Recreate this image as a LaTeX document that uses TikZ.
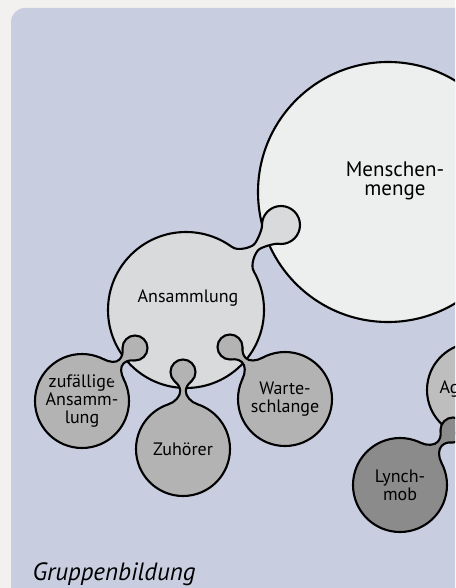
\documentclass[tikz,border=0pt]{standalone}
\usepackage{fontspec}
\setmainfont{PT Sans}
\usetikzlibrary{calc}
\definecolor{pagegray}{RGB}{242,241,239}
\definecolor{panelblue}{RGB}{201,205,224}
\definecolor{crowdfill}{RGB}{237,238,238}
\definecolor{gatherfill}{RGB}{217,218,220}
\definecolor{groupfill}{RGB}{179,179,179}
\definecolor{aggfill}{RGB}{190,190,190}
\definecolor{mobfill}{RGB}{139,139,139}

\begin{document}
\begin{tikzpicture}[x=1pt,y=-1pt,
  blob/.style={circle,draw=black,line width=2.1pt,inner sep=0pt,align=center,
    font=\fontsize{18}{18}\selectfont},
  bud/.style={circle,draw=black,line width=2.1pt,inner sep=0pt,minimum size=#1},
  flank/.style={line width=2.1pt,line cap=round}]
  \useasboundingbox (0,0) rectangle (455,588);
  \clip (0,0) rectangle (455,588);
  \fill[pagegray] (0,0) rectangle (455,588);
  \fill[panelblue,rounded corners=14pt] (11,8) rectangle (480,620);

  % circles
  \node[blob,fill=crowdfill,minimum size=260pt] (menge) at (388,192) {};
  \node[font=\fontsize{21}{19}\selectfont,align=center] (menge-t) at (395,181) {Menschen-\\menge};
  \node[blob,fill=aggfill,minimum size=94pt] (agg) at (474,390) {};
  \node[anchor=west,font=\fontsize{18}{18}\selectfont] (agg-t) at (436,389) {Ag};
  \node[blob,fill=gatherfill,minimum size=156pt] (ans) at (186,310) {};
  \node[font=\fontsize{18}{18}\selectfont] (ans-t) at (188,298) {Ansammlung};
  \node[blob,fill=groupfill,minimum size=94pt] (zuf) at (82,401) {zuf\"allige\\Ansamm-\\lung};
  \node[blob,fill=groupfill,minimum size=94pt] (zuh) at (183,449) {Zuh\"orer};
  \node[blob,fill=groupfill,minimum size=94pt] (warte) at (285,399) {Warte-\\schlange};
  \node[blob,fill=mobfill,minimum size=94pt] (lynch) at (400,485) {Lynch-\\mob};

  % buds and necks
  \foreach \kid/\bx/\by/\rb/\rk/\wpos/\wh/\ang/\col in {
      ans/281/225/19/78/33/3.5/12/gatherfill,
      zuf/135/348/12.5/47/19/2.8/18/groupfill,
      zuh/183/372/12.5/47/19/2.8/18/groupfill,
      warte/230/347/12.5/47/19/2.8/18/groupfill,
      lynch/453/430/12.5/47/19/2.8/18/mobfill} {
    \node[bud=2*\rb pt,fill=\col] (bud-\kid) at (\bx,\by) {};
    \coordinate (p1) at ($(bud-\kid.center)!\rb pt!40:(\kid.center)$);
    \coordinate (p2) at ($(bud-\kid.center)!\rb pt!-40:(\kid.center)$);
    \coordinate (q1) at ($(\kid.center)!\rk pt!-\ang:(bud-\kid.center)$);
    \coordinate (q2) at ($(\kid.center)!\rk pt!\ang:(bud-\kid.center)$);
    \coordinate (m) at ($(bud-\kid.center)!\wpos pt!(\kid.center)$);
    \coordinate (w1) at ($(m)!\wh pt!90:(\kid.center)$);
    \coordinate (w2) at ($(m)!\wh pt!-90:(\kid.center)$);
    \coordinate (c1) at ($(p1)!4pt!90:(bud-\kid.center)$);
    \coordinate (c2) at ($(w1)!4pt!180:(\kid.center)$);
    \coordinate (c3) at ($(w1)!5pt!(\kid.center)$);
    \coordinate (c4) at ($(q1)!7pt!-90:(\kid.center)$);
    \coordinate (d1) at ($(p2)!4pt!-90:(bud-\kid.center)$);
    \coordinate (d2) at ($(w2)!4pt!180:(\kid.center)$);
    \coordinate (d3) at ($(w2)!5pt!(\kid.center)$);
    \coordinate (d4) at ($(q2)!7pt!90:(\kid.center)$);
    \fill[\col] (bud-\kid.center) -- (p1) .. controls (c1) and (c2) .. (w1)
      .. controls (c3) and (c4) .. (q1) -- ($(\kid.center)!0.82!(q1)$) -- ($(\kid.center)!0.82!(q2)$) -- (q2)
      .. controls (d4) and (d3) .. (w2) .. controls (d2) and (d1) .. (p2) -- cycle;
    \draw[flank] (p1) .. controls (c1) and (c2) .. (w1) .. controls (c3) and (c4) .. (q1);
    \draw[flank] (p2) .. controls (d1) and (d2) .. (w2) .. controls (d3) and (d4) .. (q2);
  }

  \node[anchor=base west,font=\fontsize{25}{28}\selectfont\itshape] (title) at (29,580) {Gruppenbildung};
\end{tikzpicture}
\end{document}
